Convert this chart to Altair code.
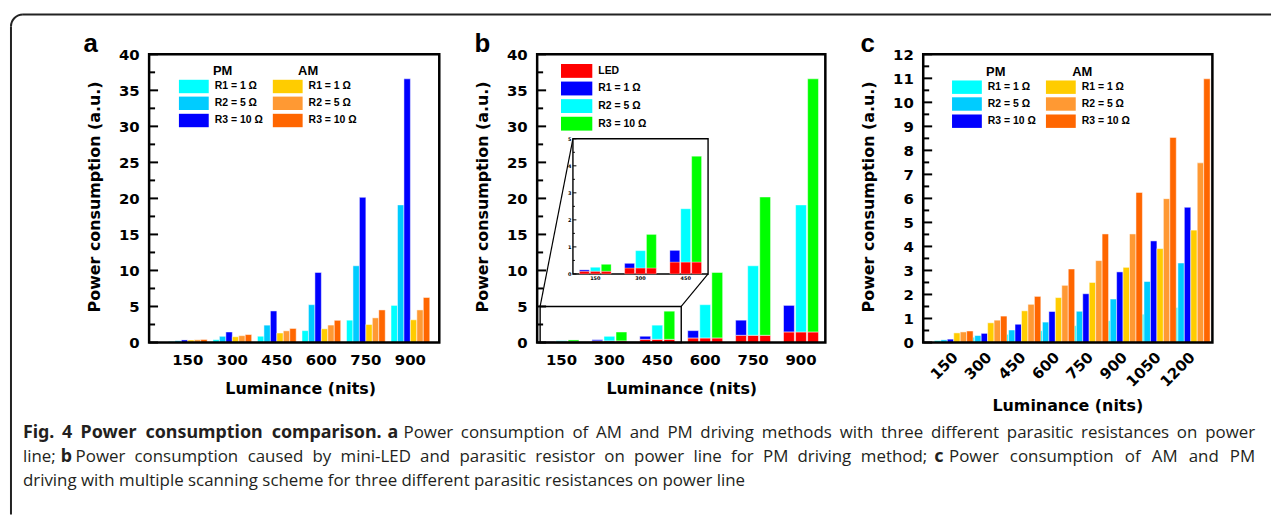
import altair as alt
import pandas as pd

# ---------------- data ----------------
LUM_AB = ["150", "300", "450", "600", "750", "900"]
LUM_C = ["150", "300", "450", "600", "750", "900", "1050", "1200"]
SERIES = ["PM R1", "PM R2", "PM R3", "AM R1", "AM R2", "AM R3"]
SERIES_COLORS = ["#00FFFF", "#00CCFF", "#0000FF", "#FFCC00", "#FF9933", "#FF6600"]

# panel a
A_PM_R1 = [0.15, 0.39, 0.87, 1.65, 3.1, 5.15]
A_PM_R2 = [0.245, 0.86, 2.41, 5.25, 10.65, 19.1]
A_PM_R3 = [0.355, 1.46, 4.38, 9.72, 20.15, 36.6]
A_AM_R1 = [0.35, 0.8, 1.32, 1.9, 2.5, 3.15]
A_AM_R2 = [0.38, 0.95, 1.62, 2.42, 3.42, 4.52]
A_AM_R3 = [0.42, 1.1, 1.95, 3.08, 4.52, 6.25]

# panel b (totals per resistor, LED share)
B_PARTS = ["LED", "R1", "R2", "R3"]
B_COLORS = ["#FF0000", "#0000FF", "#00FFFF", "#00FF00"]
B_LED = [0.1, 0.22, 0.44, 0.63, 1.0, 1.47]
B_R1 = [0.15, 0.39, 0.87, 1.65, 3.1, 5.15]
B_R2 = [0.245, 0.86, 2.41, 5.25, 10.65, 19.1]
B_R3 = [0.355, 1.46, 4.35, 9.72, 20.2, 36.6]

# panel c
C_PM_R1 = [0.08, 0.22, 0.34, 0.49, 0.7, 0.91, 1.18, 1.46]
C_PM_R2 = [0.11, 0.29, 0.52, 0.85, 1.3, 1.81, 2.54, 3.31]
C_PM_R3 = [0.14, 0.38, 0.76, 1.29, 2.03, 2.94, 4.23, 5.63]
C_AM_R1 = [0.4, 0.82, 1.32, 1.87, 2.5, 3.13, 3.91, 4.68]
C_AM_R2 = [0.44, 0.93, 1.59, 2.38, 3.41, 4.52, 5.99, 7.48]
C_AM_R3 = [0.48, 1.1, 1.92, 3.06, 4.52, 6.25, 8.54, 10.98]

# tick values
AB_MAJOR = [0, 5, 10, 15, 20, 25, 30, 35, 40]
AB_MINOR = [2.5, 7.5, 12.5, 17.5, 22.5, 27.5, 32.5, 37.5]
C_MAJOR = list(range(0, 13))
C_MINOR = [0.5, 1.5, 2.5, 3.5, 4.5, 5.5, 6.5, 7.5, 8.5, 9.5, 10.5, 11.5]
IN_MAJOR = [0, 1, 2, 3, 4, 5]
IN_MINOR = [0.5, 1.5, 2.5, 3.5, 4.5]

# caption text
CAP_1_BOLD = "Fig. 4 Power consumption comparison."
CAP_1_REG = "Power consumption of AM and PM driving methods with three different parasitic resistances on power"
CAP_2_REG_A = "Power consumption caused by mini-LED and parasitic resistor on power line for PM driving method;"
CAP_2_REG_B = "Power consumption of AM and PM"
CAP_3 = "driving with multiple scanning scheme for three different parasitic resistances on power line"

# ---------------- tables ----------------
def long_table(lums, cols):
    rows = []
    for s, vals in zip(SERIES, cols):
        for l, v in zip(lums, vals):
            rows.append({"lum": l, "series": s, "val": v})
    return pd.DataFrame(rows)

df_a = long_table(LUM_AB, [A_PM_R1, A_PM_R2, A_PM_R3, A_AM_R1, A_AM_R2, A_AM_R3])
df_c = long_table(LUM_C, [C_PM_R1, C_PM_R2, C_PM_R3, C_AM_R1, C_AM_R2, C_AM_R3])

rows = []
for r, tot in zip(["R1", "R2", "R3"], [B_R1, B_R2, B_R3]):
    for l, led, t in zip(LUM_AB, B_LED, tot):
        rows.append({"lum": l, "r": r, "part": "LED", "val": led, "ord": 0})
        rows.append({"lum": l, "r": r, "part": r, "val": t - led, "ord": 1})
df_b = pd.DataFrame(rows)
df_bi = df_b[df_b["lum"].isin(LUM_AB[:3])]

ONE = pd.DataFrame({"k": [0]})

TF = "DejaVu Sans"
LF = "Liberation Sans"
CF = "Open Sans"
CFB = "Noto Sans"
CAP_COLOR = "#231f20"
CAP_SIZE = 17
CAP_BOLD_SIZE = 18

# approximate advance widths (em) used only to justify caption lines
_REG = {" ": .260, "a": .556, "b": .613, "c": .476, "d": .613, "e": .561, "f": .339, "g": .548,
        "h": .614, "i": .253, "j": .253, "k": .525, "l": .253, "m": .930, "n": .614, "o": .604,
        "p": .613, "q": .613, "r": .408, "s": .477, "t": .353, "u": .614, "v": .501, "w": .778,
        "x": .524, "y": .502, "z": .477, "A": .633, "D": .722, "E": .549, "L": .518, "M": .903,
        "P": .592, "-": .322, ";": .266, ".": .266}
_BOLD = {" ": .260, "F": .549, "i": .289, "g": .586, ".": .285, "4": .572, "P": .636, "o": .619,
         "w": .879, "e": .596, "r": .426, "c": .505, "n": .659, "s": .506, "u": .659, "m": .995,
         "p": .637, "t": .436, "a": .610}


def text_w(s, bold=False):
    if bold:
        return sum(_BOLD.get(ch, .58) for ch in s) * CAP_BOLD_SIZE
    return sum(_REG.get(ch, .56) for ch in s) * CAP_SIZE


def y_axis(values):
    return alt.Axis(title="Power consumption (a.u.)", values=values, ticks=False, tickSize=0,
                    domain=False, grid=False, labelFont=TF, labelFontWeight="bold",
                    labelFontSize=15, labelColor="black", labelPadding=10,
                    titleFont=TF, titleFontWeight="bold", titleFontSize=16, titleColor="black",
                    titleAngle=270, titleX=-55, titleY=143, titleAlign="center",
                    titleBaseline="middle")


def x_axis(title_x, title_y, rotated=False):
    kw = dict(title="Luminance (nits)", ticks=False, tickSize=0, domain=False, grid=False,
              labelFont=TF, labelFontWeight="bold", labelFontSize=15, labelColor="black",
              titleFont=TF, titleFontWeight="bold", titleFontSize=16, titleColor="black",
              titleX=title_x, titleY=title_y, titleAlign="center", titleBaseline="middle")
    if rotated:
        kw.update(labelAngle=315, labelAlign="right", labelBaseline="middle", labelPadding=12,
                  labelOffset=6)
    else:
        kw.update(labelAngle=0, labelPadding=10)
    return alt.Axis(**kw)


def legend(x, y, expr, cols, row_pad, col_pad, shape, label_off):
    return alt.Legend(orient="none", legendX=x, legendY=y, columns=cols, direction="vertical",
                      columnPadding=col_pad, rowPadding=row_pad, symbolType=shape,
                      symbolSize=225, symbolStrokeWidth=0, symbolOpacity=1,
                      labelOffset=label_off, labelFont=LF, labelFontWeight="bold",
                      labelFontSize=10.5, labelColor="black", labelExpr=expr, padding=0,
                      title=None)


def txt(text, x, y, size, weight="normal", font=LF, align="left", baseline="alphabetic",
        color="black"):
    return alt.Chart(ONE).mark_text(text=text, font=font, fontSize=size, fontWeight=weight,
                                    align=align, baseline=baseline, color=color).encode(
        x=alt.value(x), y=alt.value(y))


def cap(text, x, y, bold=False, align="left"):
    if bold:
        return txt(text, x, y, CAP_BOLD_SIZE, "bold", CFB, align=align, color=CAP_COLOR)
    return txt(text, x, y, CAP_SIZE, "normal", CF, align=align, color=CAP_COLOR)


def justified(text, x0, x1, y, bold=False):
    """Spread the words of text evenly between x0 and x1 (justified caption line)."""
    words = text.split(" ")
    widths = [text_w(w, bold) for w in words]
    gap = (x1 - x0 - sum(widths)) / (len(words) - 1)
    out, x = [], x0
    for i, (w, wd) in enumerate(zip(words, widths)):
        if i == len(words) - 1:
            out.append(cap(w, x1, y, bold, align="right"))
        else:
            out.append(cap(w, x, y, bold))
        x += wd + gap
    return out


def ticks(values, yscale, yaxis, x0, length, sw):
    return alt.Chart(pd.DataFrame({"val": values})).mark_rule(color="black", strokeWidth=sw).encode(
        y=alt.Y("val:Q", scale=yscale, axis=yaxis), x=alt.value(x0), x2=alt.value(x0 + length))


def frame(w, h):
    return alt.Chart(ONE).mark_rect(fillOpacity=0, stroke="black", strokeWidth=2.5).encode(
        x=alt.value(0), x2=alt.value(w), y=alt.value(0), y2=alt.value(h))


SERIES_EXPR = ("indexof(datum.label,'R1')>=0 ? 'R1 = 1 Ω' : "
               "indexof(datum.label,'R2')>=0 ? 'R2 = 5 Ω' : 'R3 = 10 Ω'")
B_EXPR = ("datum.label == 'LED' ? 'LED' : datum.label == 'R1' ? 'R1 = 1 Ω' : "
          "datum.label == 'R2' ? 'R2 = 5 Ω' : 'R3 = 10 Ω'")
RECT_SHAPE = "M-2,-0.9H2V0.9H-2Z"
RECT_SHAPE_B = "M-2.1,-0.93H2.1V0.93H-2.1Z"

H = 290
series_color = alt.Scale(domain=SERIES, range=SERIES_COLORS)

# ---------------- panel a ----------------
WA = 292
OX = 149  # page x of panel a's plot origin (caption/border are laid out in page terms)
ya_scale = alt.Scale(domain=[0, 40], nice=False, zero=True)
ya_axis = y_axis(AB_MAJOR)

bars_a = alt.Chart(df_a).mark_bar(stroke="white", strokeWidth=0.5).encode(
    x=alt.X("lum:N", sort=LUM_AB,
            scale=alt.Scale(paddingInner=0.13, paddingOuter=0.324, align=0.67),
            axis=x_axis(152, 46)),
    xOffset=alt.XOffset("series:N", sort=SERIES, scale=alt.Scale(paddingInner=0, paddingOuter=0)),
    y=alt.Y("val:Q", scale=ya_scale, axis=ya_axis),
    color=alt.Color("series:N", scale=series_color,
                    legend=legend(37.5, 24.5, SERIES_EXPR, 2, 2.3, 9.5, RECT_SHAPE, 13.5)),
)

border = [
    alt.Chart(ONE).mark_rule(color="#222", strokeWidth=2).encode(
        x=alt.value(-127), x2=alt.value(1129), y=alt.value(-40)),
    alt.Chart(ONE).mark_rule(color="#222", strokeWidth=2).encode(
        x=alt.value(-139), y=alt.value(-28), y2=alt.value(463)),
    alt.Chart(ONE).mark_arc(color="#222", radius=13, radius2=11, theta=4.71238898,
                            theta2=6.28318531).encode(x=alt.value(-127), y=alt.value(-28)),
]

L1, L2, L3 = 386, 410, 434
caption = (
    justified(CAP_1_BOLD, 22 - OX, 383 - OX, L1, bold=True)
    + [cap("a", 389 - OX, L1, bold=True)]
    + justified(CAP_1_REG, 405 - OX, 1262 - OX, L1)
    + [cap("line;", 22 - OX, L2), cap("b", 60 - OX, L2, bold=True)]
    + justified(CAP_2_REG_A, 75 - OX, 932 - OX, L2)
    + [cap("c", 939 - OX, L2, bold=True)]
    + justified(CAP_2_REG_B, 954 - OX, 1262 - OX, L2)
    + [cap(CAP_3, 22 - OX, L3)]
)

panel_a = alt.layer(
    bars_a,
    ticks(AB_MAJOR, ya_scale, ya_axis, 0, 9, 2),
    ticks(AB_MINOR, ya_scale, ya_axis, 0, 6, 2),
    frame(WA, H),
    txt("PM", 74, 17, 13, "bold", LF, align="center", baseline="middle"),
    txt("AM", 160, 17, 13, "bold", LF, align="center", baseline="middle"),
    txt("a", -66, -2, 26, "bold", LF),
    *border,
    *caption,
).properties(width=WA, height=H)

# ---------------- panel b ----------------
WB = 290
yb_scale = alt.Scale(domain=[0, 40], nice=False, zero=True)
yb_axis = y_axis(AB_MAJOR)
part_color = alt.Scale(domain=B_PARTS, range=B_COLORS)
b_legend = legend(32.25, 9.2, B_EXPR, 1, 2.7, 0, RECT_SHAPE_B, 14.25)

bars_b = alt.Chart(df_b).mark_bar(stroke="white", strokeWidth=0.5).encode(
    x=alt.X("lum:N", sort=LUM_AB, scale=alt.Scale(paddingInner=0.27, paddingOuter=0.143),
            axis=x_axis(145, 46)),
    xOffset=alt.XOffset("r:N", sort=["R1", "R2", "R3"], scale=alt.Scale(paddingInner=0.1)),
    y=alt.Y("val:Q", stack="zero", scale=yb_scale, axis=yb_axis),
    color=alt.Color("part:N", scale=part_color, legend=b_legend),
    order=alt.Order("ord:Q"),
)

Y5 = H - 5 / 40 * H
zoom_box = alt.Chart(ONE).mark_rect(fillOpacity=0, stroke="black", strokeWidth=1.4).encode(
    x=alt.value(3), x2=alt.value(145), y=alt.value(Y5), y2=alt.value(H))
conn1 = alt.Chart(ONE).mark_rule(color="black", strokeWidth=1.2).encode(
    x=alt.value(3), x2=alt.value(36), y=alt.value(Y5), y2=alt.value(85))
conn2 = alt.Chart(ONE).mark_rule(color="black", strokeWidth=1.2).encode(
    x=alt.value(145), x2=alt.value(172), y=alt.value(Y5), y2=alt.value(221))

main_b = alt.layer(
    bars_b,
    ticks(AB_MAJOR, yb_scale, yb_axis, 0, 9, 2),
    ticks(AB_MINOR, yb_scale, yb_axis, 0, 6, 2),
    zoom_box, conn1, conn2,
)

yi_scale = alt.Scale(domain=[0, 5], nice=False, zero=True, range=[221, 85])
yi_axis = alt.Axis(orient="left", offset=-36, values=IN_MAJOR, title="", ticks=False, tickSize=0,
                   domain=False, grid=False, labelFont=TF, labelFontWeight="bold",
                   labelFontSize=5, labelColor="black", labelPadding=2)
inset_frame = alt.Chart(ONE).mark_rect(fill="white", stroke="black", strokeWidth=1.4).encode(
    x=alt.value(36), x2=alt.value(172), y=alt.value(85), y2=alt.value(221))
bars_bi = alt.Chart(df_bi).mark_bar(stroke="white", strokeWidth=0.3).encode(
    x=alt.X("lum:N", sort=LUM_AB[:3],
            scale=alt.Scale(range=[36, 172], paddingInner=0.3, paddingOuter=0.145),
            axis=alt.Axis(orient="bottom", offset=-69, title="", ticks=False, tickSize=0,
                          domain=False, grid=False, labelAngle=0, labelFont=TF,
                          labelFontWeight="bold", labelFontSize=5, labelColor="black",
                          labelPadding=2)),
    xOffset=alt.XOffset("r:N", sort=["R1", "R2", "R3"], scale=alt.Scale(paddingInner=0.1)),
    y=alt.Y("val:Q", stack="zero", scale=yi_scale, axis=yi_axis),
    color=alt.Color("part:N", scale=part_color, legend=b_legend),
    order=alt.Order("ord:Q"),
)
inset_b = alt.layer(
    inset_frame,
    bars_bi,
    ticks(IN_MAJOR, yi_scale, yi_axis, 36, 3.5, 1),
    ticks(IN_MINOR, yi_scale, yi_axis, 36, 2, 1),
)

panel_b = alt.layer(
    main_b, inset_b,
    frame(WB, H),
    txt("b", -63, -2, 26, "bold", LF),
).resolve_scale(x="independent", y="independent", xOffset="independent").properties(
    width=WB, height=H)

# ---------------- panel c ----------------
WC = 291
yc_scale = alt.Scale(domain=[0, 12], nice=False, zero=True)
yc_axis = y_axis(C_MAJOR)
bars_c = alt.Chart(df_c).mark_bar(stroke="white", strokeWidth=0.5).encode(
    x=alt.X("lum:N", sort=LUM_C, scale=alt.Scale(paddingInner=0.12, paddingOuter=0.33),
            axis=x_axis(145, 63, rotated=True)),
    xOffset=alt.XOffset("series:N", sort=SERIES, scale=alt.Scale(paddingInner=0, paddingOuter=0)),
    y=alt.Y("val:Q", scale=yc_scale, axis=yc_axis),
    color=alt.Color("series:N", scale=series_color,
                    legend=legend(36.5, 25.2, SERIES_EXPR, 2, 2.3, 9.5, RECT_SHAPE, 13.5)),
)
panel_c = alt.layer(
    bars_c,
    ticks(C_MAJOR, yc_scale, yc_axis, 0, 9, 2),
    ticks(C_MINOR, yc_scale, yc_axis, 0, 6, 2),
    frame(WC, H),
    txt("PM", 73, 18, 13, "bold", LF, align="center", baseline="middle"),
    txt("AM", 160, 18, 13, "bold", LF, align="center", baseline="middle"),
    txt("c", -63, -2, 26, "bold", LF),
).properties(width=WC, height=H)

chart = alt.hconcat(panel_a, panel_b, panel_c, spacing=98.5, bounds="flush").resolve_scale(
    color="independent").properties(
    padding={"left": 1, "top": 3, "right": 0, "bottom": 0}).configure_view(
    strokeWidth=0).configure(background="white")

chart.save("out.html", embed_options={"renderer": "svg", "actions": False})
